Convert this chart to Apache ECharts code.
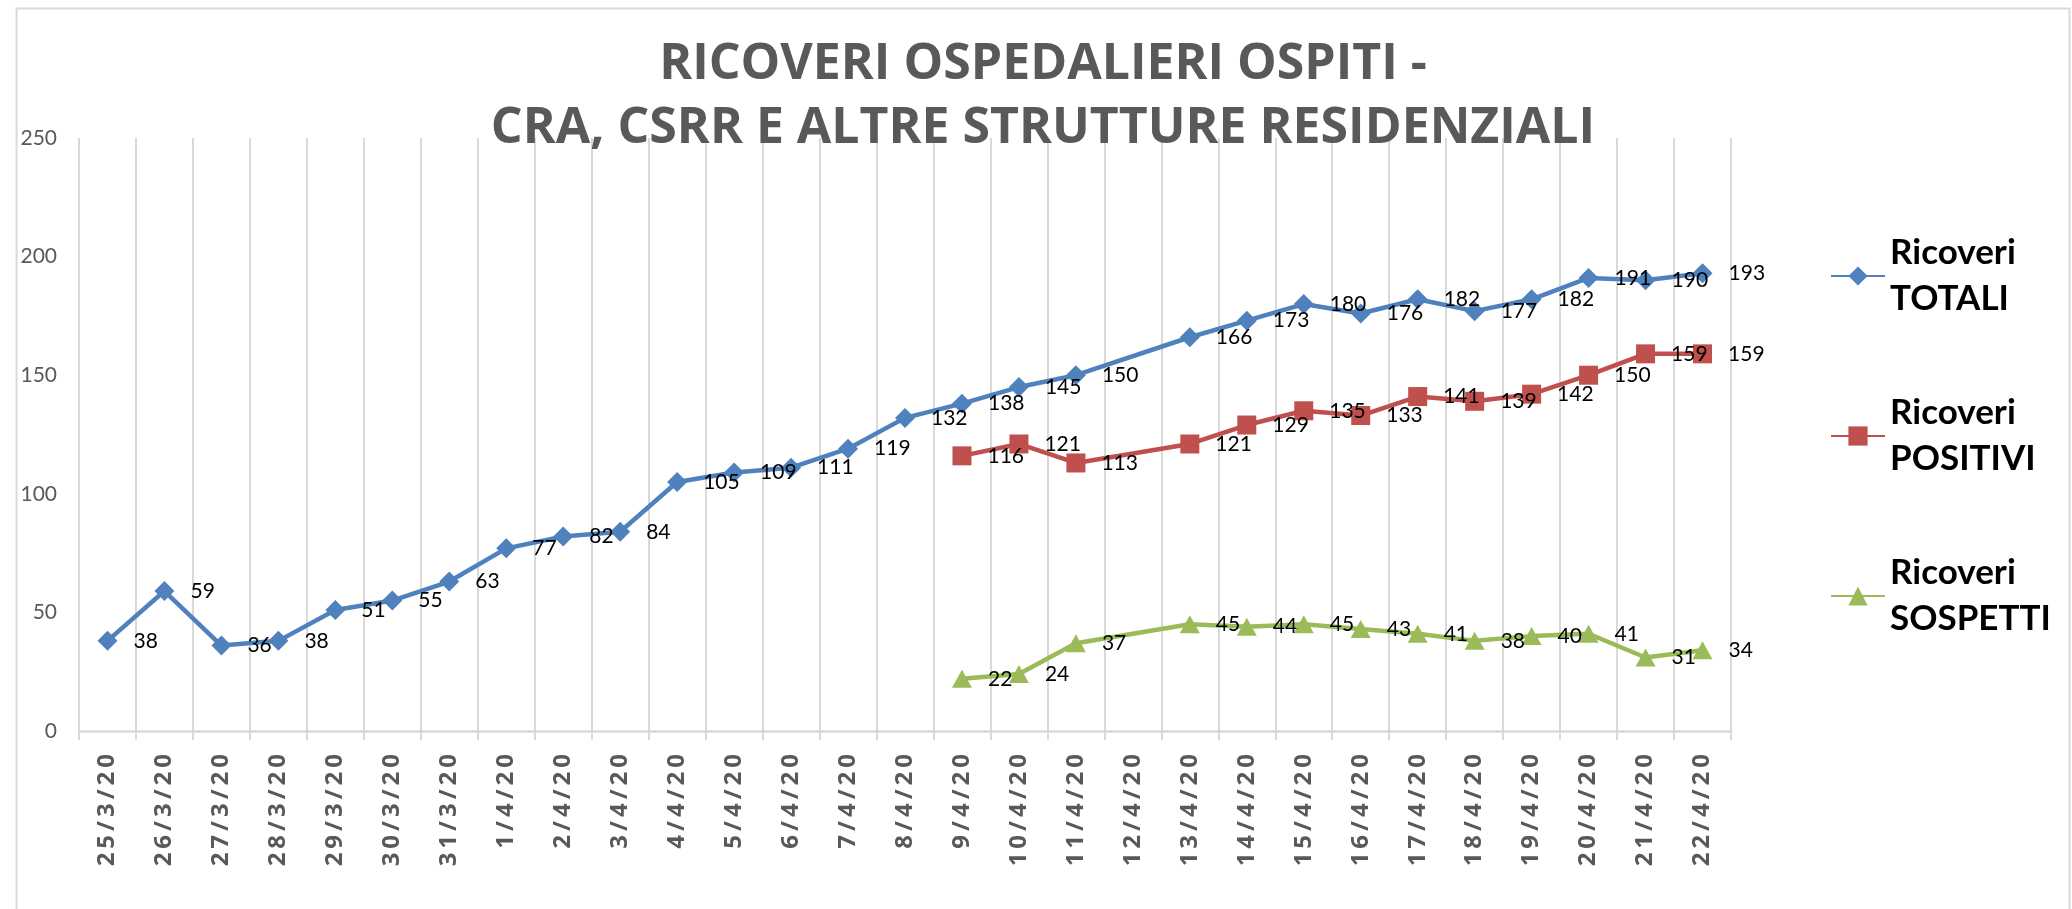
<!DOCTYPE html>
<html>
<head>
<meta charset="utf-8">
<script src="https://cdn.jsdelivr.net/npm/echarts@6/dist/echarts.min.js"></script>
<style>
  html, body { margin: 0; padding: 0; background: #ffffff; }
  #chart { width: 2072px; height: 909px; }
</style>
</head>
<body>
<div id="chart"></div>
<script>
// date del periodo (categorie asse x)
const giorni = [
  '25/3/20', '26/3/20', '27/3/20', '28/3/20', '29/3/20', '30/3/20', '31/3/20',
  '1/4/20', '2/4/20', '3/4/20', '4/4/20', '5/4/20', '6/4/20', '7/4/20',
  '8/4/20', '9/4/20', '10/4/20', '11/4/20', '12/4/20', '13/4/20', '14/4/20',
  '15/4/20', '16/4/20', '17/4/20', '18/4/20', '19/4/20', '20/4/20', '21/4/20', '22/4/20'
];

// ricoveri totali (12/4 mancante)
const totali = [
  38, 59, 36, 38, 51, 55, 63,
  77, 82, 84, 105, 109, 111, 119,
  132, 138, 145, 150, null, 166, 173,
  180, 176, 182, 177, 182, 191, 190, 193
];

// ricoveri positivi (dal 9/4)
const positivi = [
  null, null, null, null, null, null, null,
  null, null, null, null, null, null, null,
  null, 116, 121, 113, null, 121, 129,
  135, 133, 141, 139, 142, 150, 159, 159
];

// ricoveri sospetti (dal 9/4)
const sospetti = [
  null, null, null, null, null, null, null,
  null, null, null, null, null, null, null,
  null, 22, 24, 37, null, 45, 44,
  45, 43, 41, 38, 40, 41, 31, 34
];

const yTicks = [0, 50, 100, 150, 200, 250];

const chart = echarts.init(document.getElementById('chart'), null, { renderer: 'canvas' });

// etichetta dati a destra del punto
const dataLabel = {
  show: true,
  position: 'right',
  distance: 16,
  color: '#000000',
  fontFamily: 'Lato',
  fontSize: 21
};

function makeSeries(name, data, color, symbol, size) {
  return {
    name: name,
    type: 'line',
    data: data,
    connectNulls: true,
    symbol: symbol,
    symbolSize: size,
    showAllSymbol: true,
    itemStyle: { color: color },
    lineStyle: { color: color, width: 4.5 },
    label: dataLabel,
    animation: false
  };
}

const option = {
  animation: false,
  backgroundColor: '#ffffff',
  title: {
    text: 'RICOVERI OSPEDALIERI OSPITI -\nCRA, CSRR E ALTRE STRUTTURE RESIDENZIALI',
    left: 1038,
    textAlign: 'center',
    top: 28,
    textStyle: {
      fontFamily: 'Open Sans',
      fontWeight: 'bold',
      fontSize: 50,
      lineHeight: 64,
      color: '#595959'
    }
  },
  legend: {
    orient: 'vertical',
    left: 1830,
    top: 207,
    padding: 0,
    itemWidth: 54,
    itemHeight: 24,
    itemGap: 22,
    formatter: name => name.replace(' ', '\n'),
    textStyle: {
      fontFamily: 'Lato',
      fontWeight: 'bold',
      fontSize: 35,
      lineHeight: 46,
      color: '#000000',
      padding: [46, 0, 0, 0]
    }
  },
  grid: {
    left: 79,
    right: 341,
    top: 138,
    bottom: 178
  },
  xAxis: {
    type: 'category',
    data: giorni,
    boundaryGap: true,
    axisLine: { lineStyle: { color: '#d9d9d9', width: 2.5 } },
    axisTick: { show: true, length: 9, lineStyle: { color: '#d9d9d9', width: 2 } },
    splitLine: { show: true, lineStyle: { color: '#d9d9d9', width: 2 } },
    axisLabel: {
      interval: 0,
      rotate: 90,
      margin: 23,
      color: '#595959',
      fontFamily: 'Open Sans',
      fontWeight: 'bold',
      fontSize: 24,
      formatter: v => v.split('').join('\u2009')
    }
  },
  yAxis: {
    type: 'value',
    min: yTicks[0],
    max: yTicks[yTicks.length - 1],
    interval: 50,
    axisLine: { show: false },
    axisTick: { show: false },
    splitLine: { show: false },
    axisLabel: {
      margin: 22,
      color: '#595959',
      fontFamily: 'Lato',
      fontSize: 21
    }
  },
  graphic: [
    {
      // cornice del grafico
      type: 'rect',
      left: 14,
      top: 6,
      shape: { width: 2053, height: 960 },
      style: { fill: 'none', stroke: '#d9d9d9', lineWidth: 2 },
      silent: true
    }
  ],
  series: [
    makeSeries('Ricoveri TOTALI', totali, '#4f81bd', 'diamond', 20),
    makeSeries('Ricoveri POSITIVI', positivi, '#c0504d', 'rect', 19),
    makeSeries('Ricoveri SOSPETTI', sospetti, '#9bbb59', 'triangle', [20, 18])
  ]
};

chart.setOption(option);
</script>
</body>
</html>
